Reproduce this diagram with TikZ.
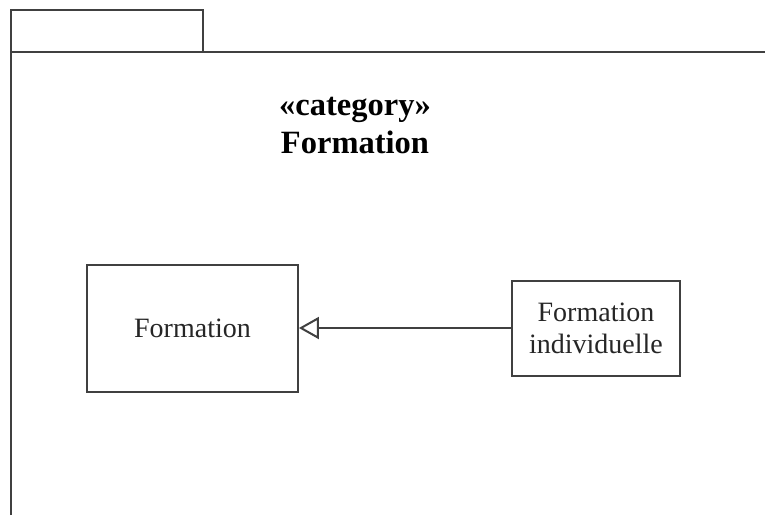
\documentclass[tikz,border=0pt]{standalone}
\usepackage{fontspec}
\setmainfont{Liberation Serif}
\usetikzlibrary{arrows.meta}
\begin{document}
\begin{tikzpicture}[x=1pt,y=-1pt,
  frameline/.style={draw=black!75, line width=1.8pt},
  classbox/.style={draw=black!75, line width=1.8pt, fill=white, inner sep=0pt,
    align=center, font=\fontsize{28}{32}\selectfont, text=black!85},
  generalization/.style={draw=black!75, line width=2pt,
    -{Triangle[open, length=20pt, width=22pt]}}]
\useasboundingbox (0,0) rectangle (765,515);
% package tab and body outline
\draw[frameline] (11,52) -- (11,10) -- (203,10) -- (203,52);
\draw[frameline] (11,515) -- (11,52) -- (765,52);
% package title
\node[font=\bfseries\fontsize{32.5}{38}\selectfont, align=center] (title) at (355,125.5)
  {«category»\\Formation};
% classes
\node[classbox, minimum width=211pt, minimum height=127pt] (formation) at (192.5,328.5) {Formation};
\node[classbox, minimum width=168pt, minimum height=95pt] (indiv) at (596,328.5)
  {Formation\\individuelle};
% inheritance, kept on a whole-pixel row
\draw[generalization] ([yshift=0.5pt]indiv.west) -- ([yshift=0.5pt]formation.east);
\end{tikzpicture}
\end{document}
